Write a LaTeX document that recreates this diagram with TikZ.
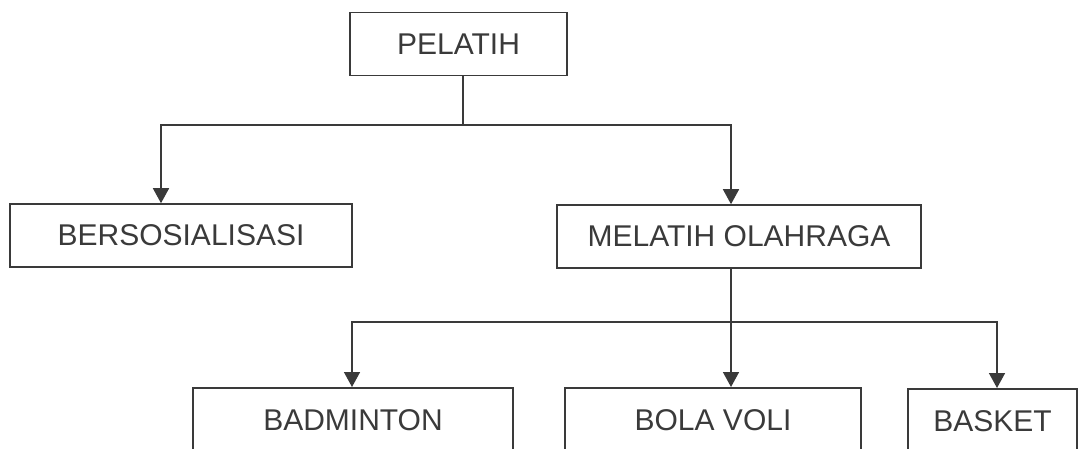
\documentclass[tikz,border=0pt]{standalone}
\usepackage{fontspec}
\setmainfont{Liberation Sans}
\usetikzlibrary{arrows.meta, positioning}

\definecolor{ink}{HTML}{3A3A3A}

\begin{document}
\begin{tikzpicture}[x=1pt, y=-1pt, >={Triangle[width=16pt,length=15pt]}, line width=1.6pt, draw=ink]
\tikzstyle{box}=[draw=ink, line width=1.6pt, rectangle, inner sep=0pt, text=ink,
  font=\fontsize{30}{36}\selectfont, minimum height=63pt]
\tikzstyle{leaf}=[box, anchor=north, minimum height=64pt]

\useasboundingbox (0,0) rectangle (1083,448);

\node[box, minimum width=217pt] (pel) at (458.5,44) {PELATIH};
\node[box, minimum width=342pt] (bers) at (181,235.5) {BERSOSIALISASI};
\node[box, minimum width=364pt] (mel) at (739,236.5) {MELATIH OLAHRAGA};

\node[leaf, minimum width=320pt] (bad) at (353,387) {BADMINTON};
\node[leaf, minimum width=296pt] (voli) at (713,387) {BOLA VOLI};
\node[leaf, minimum width=169pt] (bask) at (992.5,388) {BASKET};

\coordinate (top) at (463,125);
\coordinate (mid) at (731,322);

% first level
\draw[ink] (pel.south -| top) -- (top);
\draw[ink, ->] (top) -| ([xshift=-20pt]bers.north);
\draw[ink, ->] (top) -| ([xshift=-8pt]mel.north);

% second level
\draw[ink] (mel.south -| mid) -- (mid);
\draw[ink, ->] (mid) -| ([xshift=-1pt]bad.north);
\draw[ink, ->] (mid) -- (voli.north -| mid);
\draw[ink, ->] (mid) -| ([xshift=4.5pt]bask.north);

\end{tikzpicture}
\end{document}
